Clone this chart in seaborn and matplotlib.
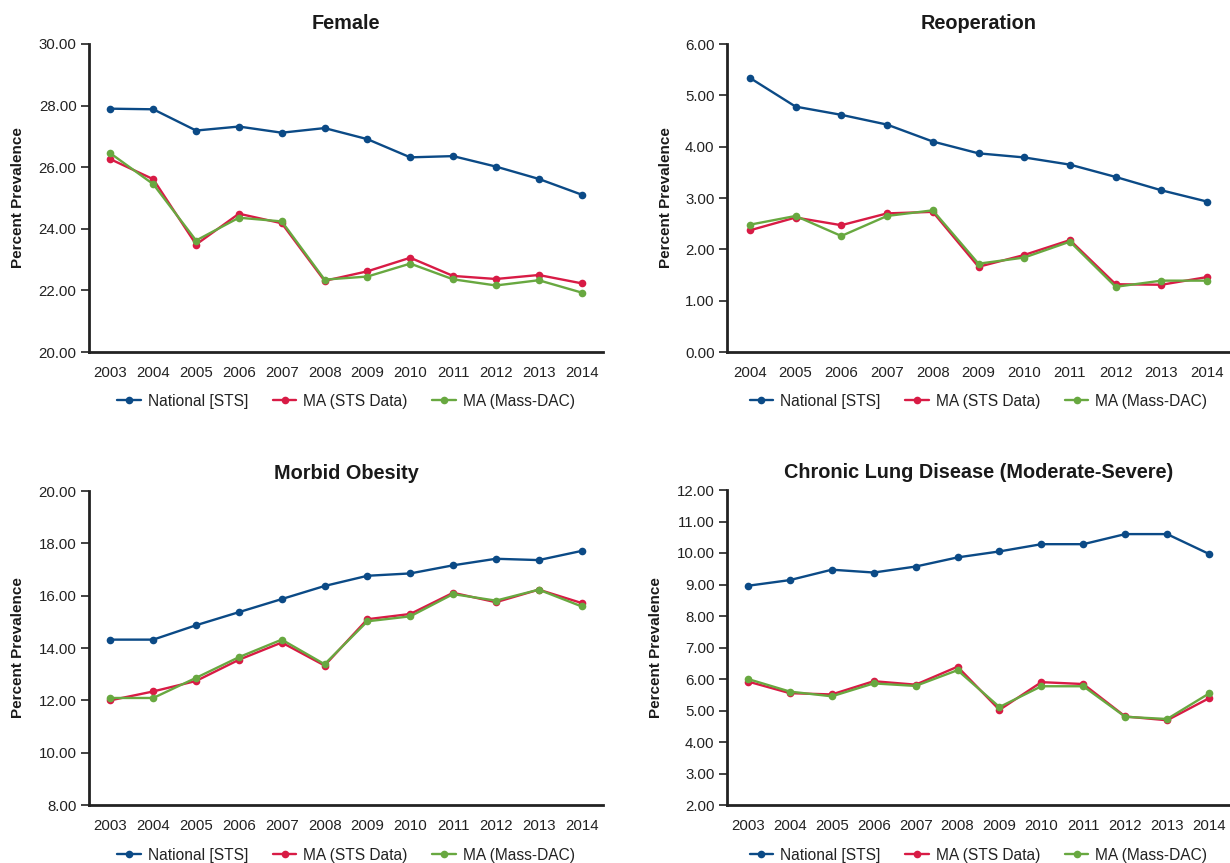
import numpy as np
import pandas as pd
import seaborn as sns
import matplotlib.pyplot as plt
from matplotlib.ticker import FormatStrFormatter, MultipleLocator

# ---- data ----
series_names = ["National [STS]", "MA (STS Data)", "MA (Mass-DAC)"]
colors = ["#0b4a86", "#d81b45", "#68a840"]

years_female = list(range(2003, 2015))
female_national = [27.90, 27.88, 27.19, 27.32, 27.12, 27.27, 26.91, 26.32, 26.36, 26.02, 25.62, 25.11]
female_ma_sts = [26.26, 25.61, 23.49, 24.49, 24.18, 22.31, 22.62, 23.06, 22.47, 22.37, 22.50, 22.23]
female_ma_dac = [26.45, 25.45, 23.62, 24.36, 24.24, 22.35, 22.45, 22.87, 22.36, 22.16, 22.33, 21.93]

years_reop = list(range(2004, 2015))
reop_national = [5.34, 4.78, 4.62, 4.43, 4.10, 3.87, 3.79, 3.65, 3.41, 3.15, 2.93]
reop_ma_sts = [2.37, 2.62, 2.47, 2.70, 2.73, 1.66, 1.89, 2.18, 1.32, 1.31, 1.46]
reop_ma_dac = [2.48, 2.65, 2.26, 2.65, 2.76, 1.72, 1.84, 2.15, 1.27, 1.39, 1.39]

years_obesity = list(range(2003, 2015))
obesity_national = [14.32, 14.32, 14.87, 15.37, 15.87, 16.37, 16.76, 16.85, 17.16, 17.41, 17.36, 17.71]
obesity_ma_sts = [12.00, 12.34, 12.74, 13.55, 14.21, 13.33, 15.10, 15.30, 16.11, 15.75, 16.23, 15.72]
obesity_ma_dac = [12.09, 12.09, 12.86, 13.65, 14.32, 13.38, 15.02, 15.21, 16.06, 15.81, 16.23, 15.59]

years_cld = list(range(2003, 2015))
cld_national = [8.96, 9.14, 9.47, 9.38, 9.57, 9.86, 10.05, 10.28, 10.28, 10.60, 10.60, 9.97]
cld_ma_sts = [5.92, 5.55, 5.51, 5.93, 5.82, 6.39, 5.02, 5.90, 5.84, 4.81, 4.69, 5.39]
cld_ma_dac = [6.00, 5.60, 5.45, 5.86, 5.78, 6.28, 5.11, 5.77, 5.77, 4.80, 4.73, 5.54]

panels = [
    dict(title="Female", years=years_female,
         values=[female_national, female_ma_sts, female_ma_dac],
         ylim=(20, 30), step=2,
         rect=[89, 44, 603, 352], ylab_x=-0.125, pad=11),
    dict(title="Reoperation", years=years_reop,
         values=[reop_national, reop_ma_sts, reop_ma_dac],
         ylim=(0, 6), step=1,
         rect=[727, 44, 1230, 352], ylab_x=-0.108, pad=11),
    dict(title="Morbid Obesity", years=years_obesity,
         values=[obesity_national, obesity_ma_sts, obesity_ma_dac],
         ylim=(8, 20), step=2,
         rect=[89, 491, 603, 805], ylab_x=-0.125, pad=9),
    dict(title="Chronic Lung Disease (Moderate-Severe)", years=years_cld,
         values=[cld_national, cld_ma_sts, cld_ma_dac],
         ylim=(2, 12), step=1,
         rect=[727, 490, 1230, 805], ylab_x=-0.128, pad=9),
]

# ---- style ----
sns.set_theme(style="white")
plt.rcParams["font.family"] = ["Liberation Sans", "DejaVu Sans"]
plt.rcParams["axes.edgecolor"] = "#222222"
plt.rcParams["text.color"] = "#222222"

W, H = 1230, 863
fig = plt.figure(figsize=(W / 100, H / 100), dpi=100)
fig.patch.set_facecolor("white")

for p in panels:
    x0, y0, x1, y1 = p["rect"]
    ax = fig.add_axes([x0 / W, 1 - y1 / H, (x1 - x0) / W, (y1 - y0) / H])

    frames = []
    for name, vals in zip(series_names, p["values"]):
        frames.append(pd.DataFrame({"Year": p["years"], "Value": vals, "Series": name}))
    df = pd.concat(frames, ignore_index=True)

    sns.lineplot(data=df, x="Year", y="Value", hue="Series",
                 hue_order=series_names, palette=colors,
                 marker="o", markersize=5.5, markeredgewidth=0,
                 linewidth=1.7, ax=ax, legend=True)

    ax.set_xlim(p["years"][0] - 0.5, p["years"][-1] + 0.5)
    ax.set_ylim(*p["ylim"])
    ax.set_xticks(p["years"])
    ax.set_xticklabels([str(y) for y in p["years"]])
    ax.yaxis.set_major_locator(MultipleLocator(p["step"]))
    ax.yaxis.set_major_formatter(FormatStrFormatter("%.2f"))

    for side in ["top", "right"]:
        ax.spines[side].set_visible(False)
    for side in ["left", "bottom"]:
        ax.spines[side].set_linewidth(2.0)
        ax.spines[side].set_color("#222222")

    ax.tick_params(axis="y", which="major", left=True, length=6, width=1.2,
                   color="#222222", labelsize=10.8, labelcolor="#222222", pad=3)
    ax.tick_params(axis="x", which="major", bottom=False, labelsize=10.8,
                   labelcolor="#222222", pad=4)

    ax.set_xlabel("")
    ax.set_ylabel("Percent Prevalence", fontsize=11, fontweight="bold", color="#1a1a1a")
    ax.yaxis.set_label_coords(p["ylab_x"], 0.5)
    ax.set_title(p["title"], fontsize=14.3, fontweight="bold", color="#1a1a1a", pad=p["pad"])

    handles, labels = ax.get_legend_handles_labels()
    ax.legend(handles, labels, loc="center", bbox_to_anchor=(0.5, -0.16),
              ncol=3, frameon=False, fontsize=11.2, handlelength=1.5,
              columnspacing=1.6, handletextpad=0.45)

fig.savefig("out.png", dpi=100, facecolor="white")
